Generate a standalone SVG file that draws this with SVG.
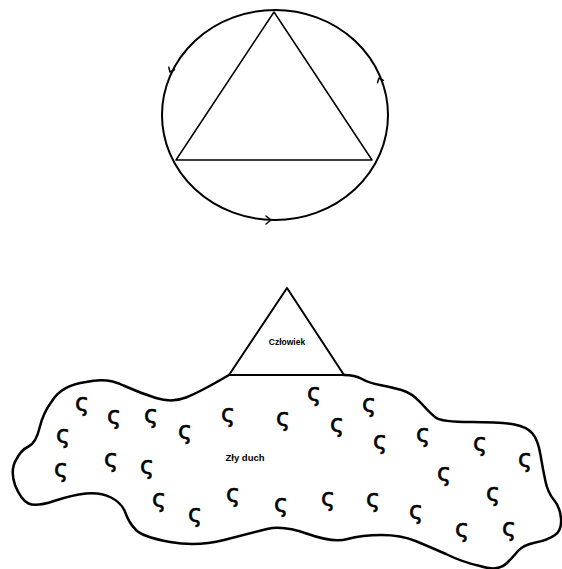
<svg xmlns="http://www.w3.org/2000/svg" width="562" height="569" viewBox="0 0 562 569">
<style>
.ln{fill:none;stroke:#000;stroke-linecap:round;stroke-linejoin:round}
.lbl{font-family:"Liberation Sans",Arial,sans-serif;font-weight:bold;fill:#000;text-anchor:middle}
.sq{font-family:"DejaVu Sans",sans-serif;font-size:24px;fill:#000;stroke:#000;stroke-width:0.6;text-anchor:middle}
</style>
<rect width="562" height="569" fill="#fff"/>
<g id="cycle">
<ellipse class="ln" cx="275" cy="115" rx="113" ry="105" stroke-width="2"/>
<polygon class="ln" points="274,12 176,160 372,160" stroke-width="1.5"/>
</g>
<g id="connectors">
<path class="ln" stroke-width="1.5" d="M168.8,67.2 L170,72 L174.5,69.9"/>
<path class="ln" stroke-width="1.5" d="M377.5,82.8 L379,78 L383.4,80.3"/>
<path class="ln" stroke-width="1.5" d="M266,216 L271,220 L266,224"/>
</g>
<g id="czlowiek">
<polygon class="ln" points="287,288 229,375 344,375" stroke-width="2"/>
<text class="lbl" x="287" y="345" font-size="8.5">Człowiek</text>
</g>
<g id="zly-duch">
<path class="ln" stroke-width="2.5" d="M229,375 Q200,392 186,397.5 Q172,403 156,398 Q140,393 123.5,385.5 Q107,377 86,382 Q62,385 52,401 Q43,413 39.5,428 Q36,443 28.5,446.5 Q21,450 16,460 Q10,470 15,485 Q21,500 28.5,503.5 Q36,507 54,501 Q72,495 86,493.5 Q100,492 111,497.5 Q122,503 125.5,513 Q129,523 136,530 Q143,537 170,542 Q197,547 224,540 Q251,533 267,529 Q283,525 308,534 Q333,543 347.5,539 Q362,535 381.5,535 Q401,535 415.5,541 Q430,547 446,554 Q462,562 480,566 Q498,572 507,563 Q513,557 518,551 Q523,545 535.5,542.5 Q548,540 555,535 Q562,530 561,518.5 Q560,507 554,500 Q548,493 545.5,481.5 Q543,470 540.5,455 Q538,440 532.5,433.5 Q527,427 514.5,424.5 Q502,422 471.5,422 Q441,422 435.5,417.5 Q430,413 421,403 Q412,393 401.5,390 Q391,387 380,385 Q369,383 362,379 Q355,375 344,375"/>
<text class="lbl" x="245" y="461" font-size="9.5">Zły duch</text>
<g class="sq">
<text x="82" y="411">ς</text>
<text x="114" y="424">ς</text>
<text x="151" y="423">ς</text>
<text x="185" y="439">ς</text>
<text x="228" y="422">ς</text>
<text x="283" y="426">ς</text>
<text x="314" y="401">ς</text>
<text x="337" y="432">ς</text>
<text x="369" y="412">ς</text>
<text x="63" y="443">ς</text>
<text x="380" y="449">ς</text>
<text x="423" y="442">ς</text>
<text x="480" y="451">ς</text>
<text x="525" y="467">ς</text>
<text x="444" y="481">ς</text>
<text x="61" y="477">ς</text>
<text x="111" y="467">ς</text>
<text x="147" y="474">ς</text>
<text x="159" y="507">ς</text>
<text x="195" y="522">ς</text>
<text x="233" y="502">ς</text>
<text x="281" y="512">ς</text>
<text x="328" y="506">ς</text>
<text x="373" y="507">ς</text>
<text x="416" y="519">ς</text>
<text x="493" y="501">ς</text>
<text x="462" y="537">ς</text>
<text x="509" y="536">ς</text>
</g>
</g>
</svg>
